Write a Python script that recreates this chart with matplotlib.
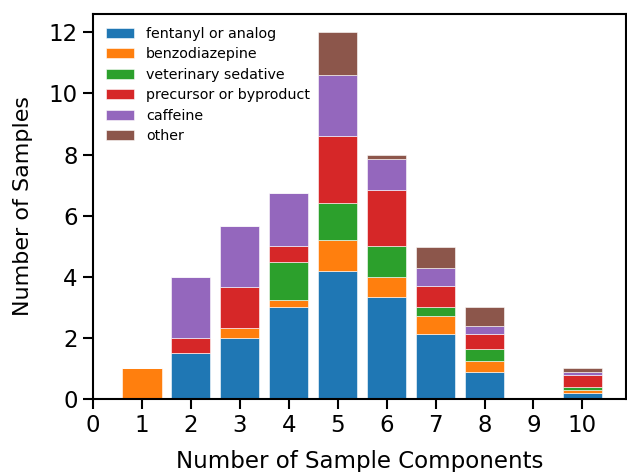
import numpy as np
import matplotlib
matplotlib.use("Agg")
import matplotlib.pyplot as plt

components = [1, 2, 3, 4, 5, 6, 7, 8, 9, 10]
fentanyl = [0, 1.5, 2.0, 3.0, 4.2, 3.33, 2.14, 0.875, 0, 0.2]
benzo = [1.0, 0, 0.33, 0.25, 1.0, 0.67, 0.57, 0.375, 0, 0.1]
vet_sedative = [0, 0, 0, 1.25, 1.2, 1.0, 0.29, 0.375, 0, 0.1]
precursor = [0, 0.5, 1.33, 0.5, 2.2, 1.85, 0.71, 0.5, 0, 0.4]
caffeine = [0, 2.0, 2.0, 1.75, 2.0, 1.0, 0.57, 0.25, 0, 0.1]
other = [0, 0, 0, 0, 1.4, 0.15, 0.71, 0.625, 0, 0.1]

series = [fentanyl, benzo, vet_sedative, precursor, caffeine, other]
labels = ["fentanyl or analog", "benzodiazepine", "veterinary sedative",
          "precursor or byproduct", "caffeine", "other"]
colors = ["#1f77b4", "#ff7f0e", "#2ca02c", "#d62728", "#9467bd", "#8c564b"]

fig = plt.figure(figsize=(6.27, 4.72), dpi=100)
ax = fig.add_axes([93/627, 73/472, 533/627, 385/472])

bottom = np.zeros(len(components))
for vals, lab, col in zip(series, labels, colors):
    ax.bar(components, vals, 0.8, bottom=bottom, color=col, label=lab,
           edgecolor="white", linewidth=0.4)
    bottom += np.array(vals)

ax.set_xlim(0, 10.89)
ax.set_ylim(0, 12.6)
ax.set_xticks(range(0, 11))
ax.set_yticks(range(0, 13, 2))
ax.tick_params(labelsize=16.5, length=7.5, width=1.5)
for s in ax.spines.values():
    s.set_linewidth(1.5)
ax.set_xlabel("Number of Sample Components", fontsize=16.5, labelpad=9)
ax.set_ylabel("Number of Samples", fontsize=16, labelpad=11.5)
ax.legend(loc="upper left", fontsize=10.3, frameon=False,
          handlelength=2.0, labelspacing=0.45)

fig.savefig("out.png", dpi=100)
